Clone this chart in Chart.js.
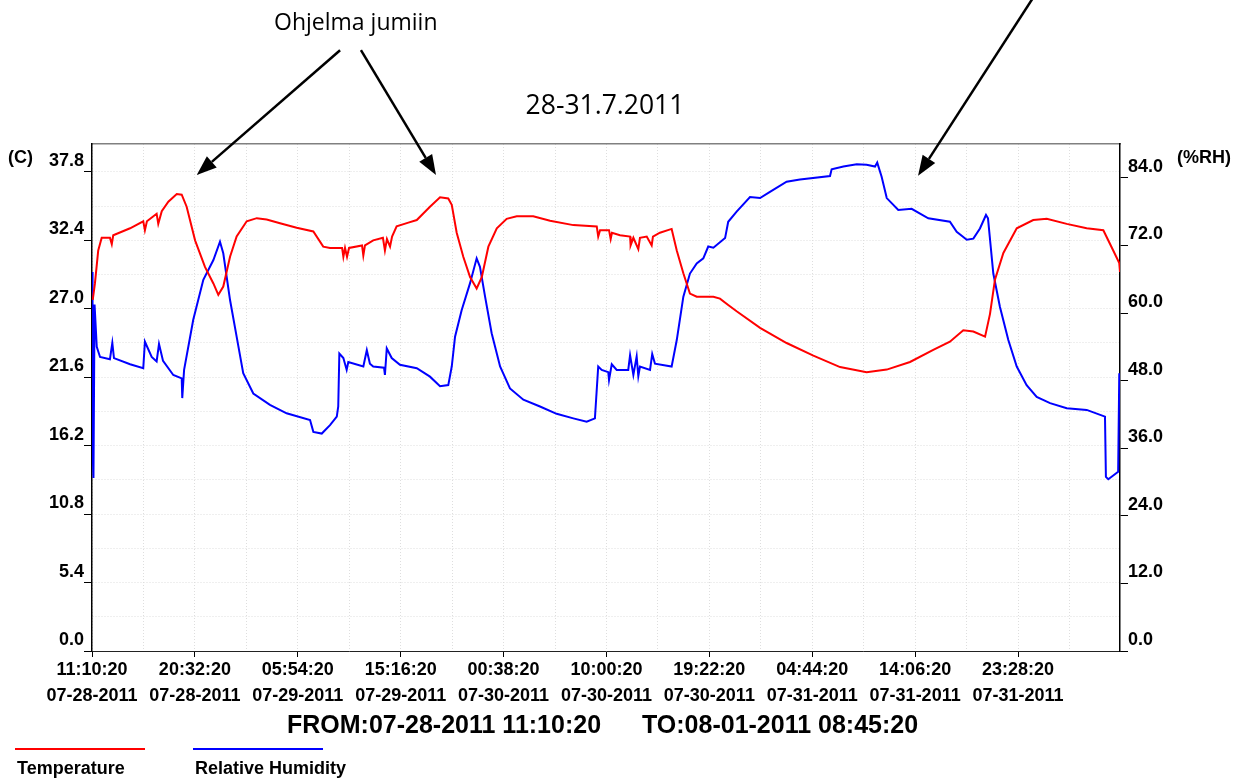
<!DOCTYPE html>
<html>
<head>
<meta charset="utf-8">
<title>28-31.7.2011</title>
<script src="https://cdn.jsdelivr.net/npm/chart.js@4.4.1/dist/chart.umd.min.js"></script>
<style>
  html, body { margin: 0; padding: 0; background: #fff; }
  #wrap { position: relative; width: 1242px; height: 778px; overflow: hidden; }
  #wrap canvas { position: absolute; left: 0; top: 0; }
  .txt { position: absolute; white-space: nowrap; line-height: 1; color: #000; }
  .note { font-family: 'Open Sans', sans-serif; }
  .bold { font-family: 'Liberation Sans', Arial, sans-serif; font-weight: bold; }
  .swatch { position: absolute; height: 2px; }
</style>
</head>
<body>
<div id="wrap">
  <canvas id="myChart" width="1242" height="778"></canvas>
  <div class="txt note" style="left:274px;top:10px;font-size:23px">Ohjelma jumiin</div>
  <div class="txt note" style="left:605px;top:91px;font-size:26.5px;transform:translateX(-50%)">28-31.7.2011</div>
  <div class="txt bold" style="left:8px;top:148px;font-size:18px">(C)</div>
  <div class="txt bold" style="left:1177px;top:148px;font-size:18px">(%RH)</div>
  <div class="txt bold" style="left:287px;top:712px;font-size:25px">FROM:07-28-2011 11:10:20</div>
  <div class="txt bold" style="left:642px;top:712px;font-size:25px">TO:08-01-2011 08:45:20</div>
  <div id="legend"></div>
</div>
<script>
// x values are minutes after 07-28-2011 11:10:20
const tempMinutes = [4,16,34,53,98,108,116,208,280,289,
  300,353,362,381,417,463,490,517,563,617,
  663,690,717,754,790,845,900,954,1027,1118,
  1209,1263,1300,1366,1373,1382,1393,1404,1475,1482,
  1491,1536,1589,1600,1611,1628,1639,1664,1728,1774,
  1846,1901,1946,1965,1992,2028,2065,2101,2129,2165,
  2211,2265,2320,2410,2502,2629,2757,2765,2775,2824,
  2833,2840,2884,2939,2942,2957,2984,2993,3030,3057,
  3064,3102,3166,3194,3230,3266,3303,3394,3430,3475,
  3521,3649,3794,3940,4086,4231,4341,4468,4595,4686,
  4759,4814,4878,4905,4932,4978,5051,5141,5215,5324,
  5433,5524,5578,5611,5615];
const tempValues = [27.7,29.0,31.6,32.6,32.6,32.1,32.8,33.35,33.9,33.2,
  33.9,34.5,33.7,34.7,35.45,36.05,36.0,35.05,32.4,30.3,
  29.0,28.1,28.75,31.1,32.7,33.9,34.15,34.05,33.75,33.4,
  33.1,31.9,31.8,31.8,31.1,31.8,31.1,31.8,32.0,31.2,
  32.0,32.4,32.6,31.6,32.5,31.9,32.7,33.5,33.8,34.0,
  35.05,35.8,35.7,35.2,33.0,31.1,29.5,28.6,29.5,31.9,
  33.35,34.1,34.3,34.3,33.95,33.6,33.5,32.7,33.2,33.2,
  32.5,33.0,32.8,32.7,32.0,32.6,31.7,32.6,32.7,32.0,
  32.7,33.0,33.3,31.6,29.8,28.2,27.95,27.95,27.8,27.3,
  26.8,25.5,24.3,23.3,22.4,22.0,22.2,22.8,23.75,24.4,
  25.3,25.2,24.8,26.6,29.3,31.4,33.35,34.0,34.1,33.7,
  33.35,33.2,31.6,30.6,29.9];

const rhMinutes = [0,3,8,14,26,44,98,111,120,208,
  280,289,326,353,366,388,444,490,493,503,
  553,608,663,699,717,754,790,826,881,972,
  1063,1191,1209,1255,1300,1337,1345,1351,1373,1391,
  1400,1482,1501,1518,1536,1595,1600,1610,1637,1682,
  1774,1846,1901,1946,1965,1983,2019,2065,2101,2119,
  2147,2183,2229,2283,2356,2447,2538,2629,2702,2747,
  2765,2784,2820,2824,2839,2866,2929,2939,2957,2975,
  2984,2993,3048,3060,3075,3166,3194,3230,3266,3303,
  3339,3366,3394,3458,3475,3521,3594,3649,3703,3794,
  3867,4031,4040,4104,4177,4231,4277,4289,4313,4341,
  4404,4477,4568,4686,4723,4778,4814,4850,4883,4894,
  4923,4959,5005,5051,5105,5160,5233,5324,5433,5533,
  5538,5551,5605,5611];
const rhValues = [67.3,36.0,30.7,61.5,54.0,52.2,51.8,54.7,52.0,50.9,
  50.2,54.9,52.2,51.4,54.5,51.5,49.0,48.4,44.9,49.9,
  58.8,65.9,69.4,72.65,70.6,62.3,55.8,49.3,45.7,43.7,
  42.2,41.0,38.9,38.6,40.1,41.6,43.4,52.8,52.0,49.9,
  51.3,50.5,53.4,51.0,50.5,50.3,49.0,53.7,52.0,50.8,
  50.2,48.7,47.0,47.2,50.5,55.8,60.5,65.3,69.7,68.2,
  62.9,56.4,50.5,46.6,44.6,43.4,42.1,41.3,40.7,41.3,
  50.5,49.9,49.5,48.1,50.9,49.9,49.9,52.5,49.0,52.3,
  48.8,50.5,49.9,52.7,51.0,50.5,55.2,62.9,67.0,68.8,
  69.7,71.8,71.6,73.3,76.2,78.0,80.6,80.4,81.5,83.3,
  83.7,84.3,85.5,86.0,86.4,86.3,86.0,86.7,84.2,80.4,
  78.3,78.5,76.8,76.2,74.4,73.0,73.2,75.0,77.4,76.8,
  67.0,61.1,55.2,50.5,47.2,45.1,44.0,43.1,42.8,41.6,
  30.9,30.5,31.8,49.3];

const tickTimes = ['11:10:20','20:32:20','05:54:20','15:16:20','00:38:20','10:00:20','19:22:20','04:44:20','14:06:20','23:28:20'];
const tickDates = ['07-28-2011','07-28-2011','07-29-2011','07-29-2011','07-30-2011','07-30-2011','07-30-2011','07-31-2011','07-31-2011','07-31-2011'];
const tickStepMinutes = 562;
const totalMinutes = 5615;
const tempTicks = [0.0, 5.4, 10.8, 16.2, 21.6, 27.0, 32.4, 37.8];
const rhTicks = [0, 12, 24, 36, 48, 60, 72, 84];

// annotation arrows, in [minutes, temperature] coordinates
const noteArrows = [
  { from: [1355, 47.4], to: [572, 37.55] },
  { from: [1469, 47.4], to: [1879, 37.55] },
  { from: [5152, 51.8], to: [4512, 37.5] }
];

const tickFont = { family: "'Liberation Sans', Arial, sans-serif", size: 18, weight: 'bold' };
const majorTick = ctx => ctx.index % 2 === 0 ? '#000' : 'rgba(0,0,0,0)';
const gridColor = '#dedede';

const arrowPlugin = {
  id: 'arrows',
  afterDraw(chart) {
    const { ctx, scales: { x, yT } } = chart;
    ctx.save();
    ctx.strokeStyle = '#000';
    ctx.fillStyle = '#000';
    ctx.lineWidth = 2.5;
    noteArrows.forEach(a => {
      const x0 = x.getPixelForValue(a.from[0]), y0 = yT.getPixelForValue(a.from[1]);
      const x1 = x.getPixelForValue(a.to[0]), y1 = yT.getPixelForValue(a.to[1]);
      const ang = Math.atan2(y1 - y0, x1 - x0);
      const len = 20, half = 7.5;
      const bx = x1 - len * Math.cos(ang), by = y1 - len * Math.sin(ang);
      ctx.beginPath();
      ctx.moveTo(x0, y0);
      ctx.lineTo(bx, by);
      ctx.stroke();
      ctx.beginPath();
      ctx.moveTo(x1, y1);
      ctx.lineTo(bx + half * Math.sin(ang), by - half * Math.cos(ang));
      ctx.lineTo(bx - half * Math.sin(ang), by + half * Math.cos(ang));
      ctx.closePath();
      ctx.fill();
    });
    ctx.restore();
  }
};

const myChart = new Chart(document.getElementById('myChart'), {
  type: 'line',
  data: {
    datasets: [{
      label: 'Temperature',
      data: tempMinutes.map((m, i) => ({ x: m, y: tempValues[i] })),
      borderColor: '#ff0000',
      borderWidth: 2,
      pointRadius: 0,
      tension: 0,
      yAxisID: 'yT'
    }, {
      label: 'Relative Humidity',
      data: rhMinutes.map((m, i) => ({ x: m, y: rhValues[i] })),
      borderColor: '#0000ff',
      borderWidth: 2,
      pointRadius: 0,
      tension: 0,
      yAxisID: 'yR'
    }]
  },
  options: {
    responsive: false,
    animation: false,
    events: [],
    layout: { padding: { top: 144, left: 0, right: 0, bottom: 0 } },
    plugins: { legend: { display: false }, tooltip: { enabled: false }, title: { display: false } },
    scales: {
      x: {
        type: 'linear',
        position: 'bottom',
        min: 0,
        max: totalMinutes,
        afterBuildTicks: scale => {
          const t = [];
          for (let v = 0; v <= totalMinutes; v += tickStepMinutes / 2) t.push({ value: v });
          scale.ticks = t;
        },
        afterFit: scale => { scale.height = 127; },
        ticks: {
          autoSkip: false,
          maxRotation: 0,
          minRotation: 0,
          padding: 0,
          color: '#000',
          font: { ...tickFont, lineHeight: 1.45 },
          callback: (v, i) => i % 2 === 0 ? [tickTimes[i / 2], tickDates[i / 2]] : ''
        },
        grid: { color: gridColor, tickColor: majorTick, tickLength: 6, tickWidth: 1 },
        border: { color: '#222', width: 1, dash: [1, 2] }
      },
      xTop: {
        type: 'linear',
        position: 'top',
        min: 0,
        max: totalMinutes,
        ticks: { display: false },
        grid: { display: false, drawTicks: false },
        border: { color: '#808080', width: 1.5 },
        afterFit: scale => { scale.height = 0; }
      },
      yT: {
        type: 'linear',
        position: 'left',
        min: 0,
        max: 40,
        afterBuildTicks: scale => {
          const t = [];
          tempTicks.forEach(v => {
            t.push({ value: v });
            const mid = v + 2.7;
            if (mid < 40) t.push({ value: mid });
          });
          scale.ticks = t;
        },
        afterFit: scale => { scale.width = 92; },
        ticks: {
          padding: 0,
          labelOffset: -11,
          color: '#000',
          font: tickFont,
          callback: (v, i) => i % 2 === 0 ? tempTicks[i / 2].toFixed(1) : ''
        },
        grid: { color: gridColor, tickColor: majorTick, tickLength: 8, tickWidth: 1 },
        border: { color: '#000', width: 1.5, dash: [1, 2] }
      },
      yR: {
        type: 'linear',
        position: 'right',
        min: 0,
        max: 90,
        afterBuildTicks: scale => { scale.ticks = rhTicks.map(v => ({ value: v })); },
        afterFit: scale => { scale.width = 122; },
        ticks: {
          padding: 0,
          labelOffset: -11,
          color: '#000',
          font: tickFont,
          callback: v => v.toFixed(1)
        },
        grid: { drawOnChartArea: false, tickColor: '#000', tickLength: 8, tickWidth: 1 },
        border: { color: '#000', width: 1.5 }
      }
    }
  },
  plugins: [arrowPlugin]
});

// legend: coloured line above each series name
const legend = document.getElementById('legend');
const legendLeft = [15, 193];
myChart.data.datasets.forEach((ds, i) => {
  const sw = document.createElement('div');
  sw.className = 'swatch';
  sw.style.cssText = `left:${legendLeft[i]}px;top:748px;width:130px;background:${ds.borderColor}`;
  legend.appendChild(sw);
  const lb = document.createElement('div');
  lb.className = 'txt bold';
  lb.style.cssText = `left:${legendLeft[i] + 2}px;top:759px;font-size:18px`;
  lb.textContent = ds.label;
  legend.appendChild(lb);
});
</script>
</body>
</html>
